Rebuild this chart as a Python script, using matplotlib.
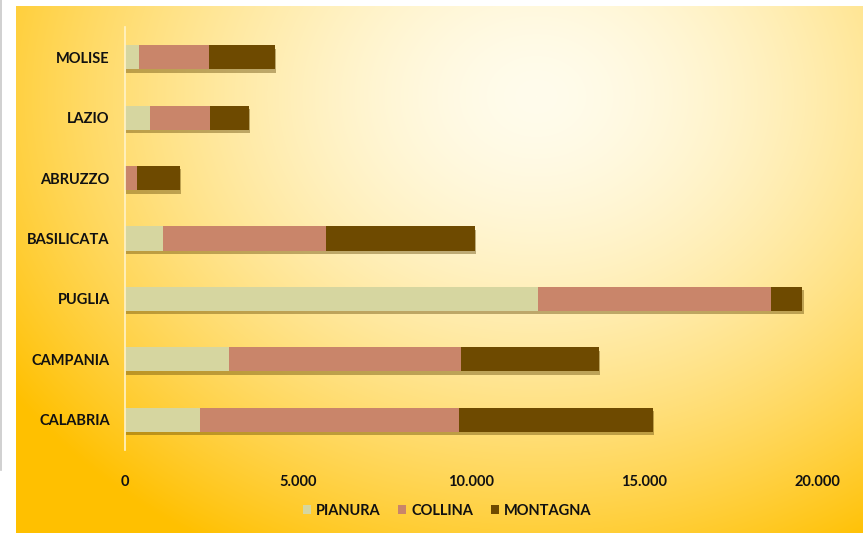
import numpy as np
import matplotlib.pyplot as plt
from matplotlib import patheffects as pe
from matplotlib.lines import Line2D
from matplotlib.patches import Patch

# dati
regioni = ['CALABRIA', 'CAMPANIA', 'PUGLIA', 'BASILICATA', 'ABRUZZO', 'LAZIO', 'MOLISE']
pianura = [2170, 3000, 11940, 1100, 0, 720, 400]
collina = [7480, 6710, 6730, 4710, 350, 1735, 2030]
montagna = [5610, 3990, 900, 4300, 1240, 1125, 1900]
xticks = [0, 5000, 10000, 15000, 20000]
xlabels = ['0', '5.000', '10.000', '15.000', '20.000']

W, H = 863, 533
plt.rcParams['font.family'] = ['Lato', 'DejaVu Sans']
fig = plt.figure(figsize=(W / 100, H / 100), dpi=100, facecolor='white')

# sfondo sfumato
bg = fig.add_axes([16 / W, 0, 1 - 16 / W, (H - 6) / H])
yy, xx = np.mgrid[0:H - 6, 0:W - 16]
d = np.sqrt(((xx - 520) / 640.0) ** 2 + ((yy - 90) / 520.0) ** 2)
t = np.clip(d, 0, 1) ** 1.6
c0 = np.array([255, 252, 236]) / 255
c1 = np.array([255, 192, 0]) / 255
img = c0 * (1 - t[..., None]) + c1 * t[..., None]
bg.imshow(img, aspect='auto', interpolation='bilinear')
bg.axis('off')

fig.add_artist(Line2D([0.5 / W, 0.5 / W], [1 - 470 / H, 1], color='#c8c8c8', lw=1.2))

ax = fig.add_axes([125 / W, 1 - 450 / H, (817 - 125) / W, (450 - 27) / H])
ax.patch.set_alpha(0)
y = np.arange(len(regioni))
ombra = [pe.SimplePatchShadow(offset=(1, -2.5), shadow_rgbFace='#5a4000', alpha=0.4), pe.Normal()]
colori = ['#d6d6a0', '#c9856a', '#6e4a00']
nomi = ['PIANURA', 'COLLINA', 'MONTAGNA']
left = np.zeros(len(regioni))
for vals, col in zip([pianura, collina, montagna], colori):
    bars = ax.barh(y, vals, left=left, height=0.4, color=col)
    for b in bars:
        b.set_path_effects(ombra)
    left = left + np.array(vals)

ax.set_xlim(0, 20000)
ax.set_ylim(-0.5, len(regioni) - 0.5)
ax.set_yticks(y)
ax.set_yticklabels(regioni, fontweight='bold', fontsize=10.5, color='#111111')
ax.set_xticks(xticks)
ax.set_xticklabels(xlabels, fontweight='bold', fontsize=10.5, color='#111111')
ax.tick_params(axis='y', length=0, pad=11)
ax.tick_params(axis='x', length=0, pad=18)
for s in ['top', 'right', 'bottom']:
    ax.spines[s].set_visible(False)
ax.spines['left'].set_color('#fff3c8')
ax.spines['left'].set_linewidth(1.2)

handles = [Patch(facecolor=c) for c in colori]
fig.legend(handles, nomi, loc='center', bbox_to_anchor=(447 / W, 1 - 511 / H), ncol=3, frameon=False,
           handlelength=0.55, handleheight=0.55, handletextpad=0.35, columnspacing=1.2,
           prop={'weight': 'bold', 'size': 10.5}, labelcolor='#111111')

fig.savefig('out.png', dpi=100, facecolor='white')
